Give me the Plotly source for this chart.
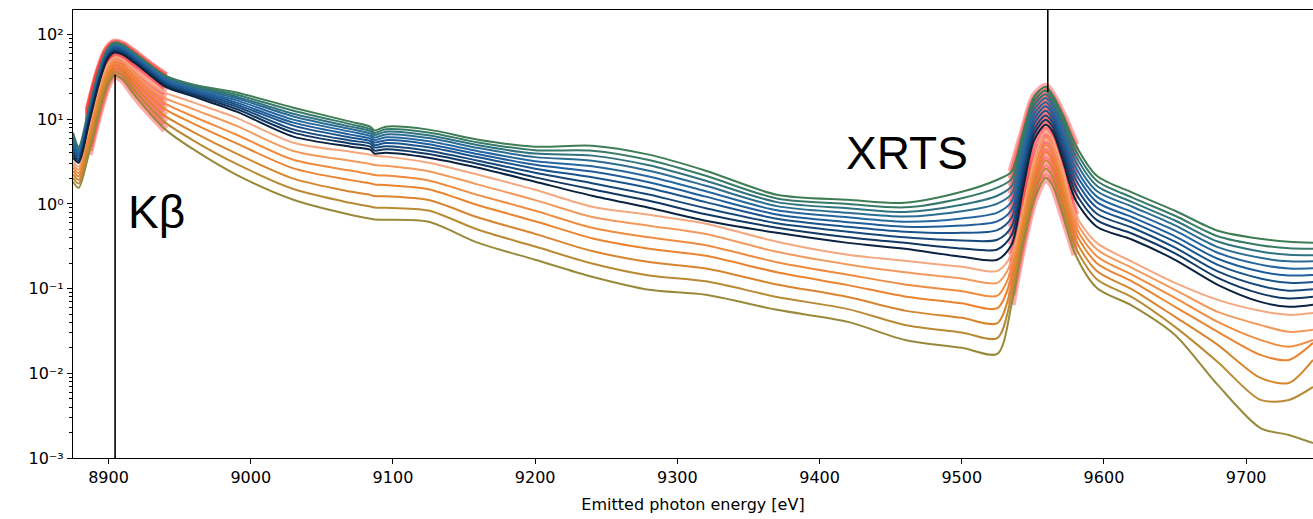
import math
import plotly.graph_objects as go

# ---------------- data ----------------
energy_ev = [8875, 8879, 8886, 8893, 8899, 8904, 8910, 8918, 8928, 8940,
             8960, 8990, 9030, 9070, 9084, 9087, 9095, 9125, 9160, 9200,
             9240, 9280, 9320, 9370, 9420, 9460, 9500, 9525, 9535, 9543,
             9551, 9559, 9564, 9571, 9580, 9595, 9620, 9650, 9680, 9710,
             9730, 9747]

# upper family (green -> blue -> navy), top to bottom
spec_g0 = [6.95, 4.74, 13.0, 36.6, 66.5, 80.5, 76.2, 61.3, 45.4, 32.8, 25.6, 20.7, 13.7, 9.37, 8.18, 7.35, 8.18, 7.54, 5.74, 4.74, 4.87, 3.82, 2.47, 1.285, 1.12, 1.03, 1.39, 1.93, 2.41, 6.95, 18.5, 24.2, 19.0, 11.3, 5.01, 2.15, 1.36, 0.831, 0.483, 0.388, 0.358, 0.349]
spec_g1 = [6.49, 4.54, 12.5, 35.3, 64.7, 78.3, 74.1, 59.7, 44.2, 31.9, 24.9, 19.5, 12.6, 8.76, 7.68, 6.90, 7.62, 6.98, 5.32, 4.31, 4.25, 3.30, 2.15, 1.16, 1.00, 0.911, 1.17, 1.56, 1.97, 5.95, 16.5, 21.9, 17.2, 10.0, 4.31, 1.88, 1.19, 0.725, 0.416, 0.326, 0.299, 0.295]
spec_g2 = [6.07, 4.35, 11.9, 34.1, 63.0, 76.2, 72.2, 58.0, 43.0, 31.1, 24.0, 18.5, 11.6, 8.18, 7.22, 6.50, 7.14, 6.47, 4.93, 3.93, 3.72, 2.86, 1.88, 1.05, 0.888, 0.804, 0.979, 1.25, 1.62, 5.10, 14.7, 19.7, 15.6, 8.88, 3.72, 1.64, 1.05, 0.637, 0.360, 0.275, 0.251, 0.248]
spec_g3 = [5.66, 4.16, 11.5, 32.8, 61.3, 74.1, 70.3, 56.4, 41.9, 30.2, 23.3, 17.7, 10.8, 7.65, 6.76, 6.08, 6.62, 6.00, 4.57, 3.57, 3.24, 2.47, 1.64, 0.942, 0.787, 0.709, 0.820, 1.01, 1.32, 4.37, 13.0, 17.8, 14.2, 7.86, 3.20, 1.42, 0.927, 0.557, 0.309, 0.231, 0.210, 0.210]
spec_g4 = [5.29, 3.97, 11.0, 31.6, 59.6, 72.2, 68.4, 54.9, 40.8, 29.0, 22.4, 16.7, 9.89, 7.14, 6.33, 5.70, 6.12, 5.51, 4.20, 3.20, 2.79, 2.11, 1.41, 0.840, 0.695, 0.618, 0.674, 0.791, 1.06, 3.67, 11.4, 15.9, 12.7, 6.86, 2.71, 1.22, 0.802, 0.483, 0.265, 0.192, 0.173, 0.174]
spec_g5 = [4.87, 3.79, 10.4, 30.4, 58.0, 70.3, 66.5, 53.4, 39.7, 28.0, 21.8, 15.7, 9.12, 6.58, 5.90, 5.31, 5.66, 5.07, 3.86, 2.90, 2.41, 1.80, 1.22, 0.749, 0.609, 0.538, 0.556, 0.623, 0.854, 3.10, 10.1, 14.2, 11.4, 6.00, 2.30, 1.05, 0.697, 0.415, 0.225, 0.159, 0.143, 0.145]
spec_g6 = [4.49, 3.62, 10.0, 29.3, 56.4, 68.4, 64.7, 52.0, 38.6, 27.0, 20.8, 14.9, 8.41, 6.10, 5.51, 4.96, 5.24, 4.66, 3.56, 2.61, 2.06, 1.54, 1.05, 0.669, 0.538, 0.470, 0.456, 0.491, 0.687, 2.61, 8.88, 12.6, 10.2, 5.24, 1.95, 0.902, 0.607, 0.358, 0.191, 0.132, 0.117, 0.120]
spec_g7 = [4.14, 3.42, 9.62, 28.0, 54.2, 65.6, 62.1, 49.9, 37.1, 26.1, 20.0, 14.1, 7.59, 5.61, 5.15, 4.64, 4.81, 4.25, 3.24, 2.33, 1.76, 1.29, 0.890, 0.592, 0.470, 0.403, 0.370, 0.378, 0.538, 2.16, 7.68, 11.1, 9.12, 4.51, 1.64, 0.766, 0.524, 0.305, 0.160, 0.108, 0.0947, 0.0982]
spec_g8 = [3.82, 3.24, 9.12, 26.8, 52.4, 63.4, 60.1, 48.3, 35.9, 25.2, 19.3, 13.2, 6.95, 5.18, 4.74, 4.27, 4.42, 3.88, 2.96, 2.06, 1.49, 1.09, 0.755, 0.524, 0.404, 0.347, 0.298, 0.290, 0.426, 1.80, 6.69, 9.89, 8.11, 3.93, 1.36, 0.644, 0.445, 0.261, 0.134, 0.0873, 0.0766, 0.0800]
spec_g9 = [3.52, 3.07, 8.64, 25.6, 50.6, 61.3, 58.0, 46.7, 34.6, 24.2, 18.5, 12.3, 6.23, 4.74, 4.37, 3.93, 4.03, 3.52, 2.68, 1.83, 1.25, 0.902, 0.633, 0.456, 0.347, 0.295, 0.238, 0.219, 0.329, 1.47, 5.74, 8.64, 7.14, 3.33, 1.12, 0.538, 0.378, 0.219, 0.111, 0.0698, 0.0610, 0.0644]

# lower family (peach -> orange -> olive), top to bottom
spec_o0 = [3.15, 2.76, 7.14, 21.2, 43.0, 53.5, 50.6, 38.6, 27.8, 20.6, 15.7, 10.4, 5.29, 4.14, 3.82, 3.71, 3.62, 3.07, 2.21, 1.47, 0.927, 0.745, 0.584, 0.358, 0.251, 0.213, 0.181, 0.162, 0.251, 0.854, 3.33, 7.34, 5.74, 2.54, 0.745, 0.347, 0.207, 0.117, 0.0737, 0.0547, 0.0490, 0.0517]
spec_o1 = [2.92, 2.54, 6.53, 19.3, 39.7, 49.8, 46.8, 35.0, 24.6, 17.8, 13.1, 8.34, 4.22, 3.23, 2.97, 2.88, 2.82, 2.43, 1.69, 1.11, 0.701, 0.554, 0.441, 0.272, 0.193, 0.156, 0.132, 0.117, 0.206, 0.743, 2.85, 6.09, 4.78, 2.12, 0.637, 0.291, 0.175, 0.0968, 0.0532, 0.0373, 0.0309, 0.0326]
spec_o2 = [2.68, 2.32, 5.91, 17.6, 36.2, 46.2, 43.0, 31.5, 21.8, 15.3, 10.7, 6.56, 3.32, 2.48, 2.26, 2.19, 2.16, 1.89, 1.27, 0.831, 0.524, 0.403, 0.326, 0.205, 0.146, 0.112, 0.0934, 0.0825, 0.167, 0.642, 2.41, 4.98, 3.95, 1.76, 0.538, 0.241, 0.145, 0.0778, 0.0405, 0.0248, 0.0206, 0.0248]
spec_o3 = [2.47, 2.12, 5.37, 16.0, 33.2, 42.9, 39.7, 28.4, 19.2, 13.1, 8.83, 5.19, 2.63, 1.91, 1.75, 1.70, 1.67, 1.49, 0.963, 0.625, 0.394, 0.296, 0.244, 0.156, 0.110, 0.0809, 0.0671, 0.0587, 0.136, 0.556, 2.04, 4.11, 3.27, 1.46, 0.456, 0.200, 0.121, 0.0610, 0.0309, 0.0165, 0.0144, 0.0229]
spec_o4 = [2.23, 1.92, 4.81, 14.3, 30.0, 39.3, 36.0, 25.0, 16.6, 10.9, 7.02, 3.93, 1.99, 1.40, 1.28, 1.24, 1.23, 1.11, 0.691, 0.443, 0.278, 0.206, 0.173, 0.112, 0.0795, 0.0550, 0.0452, 0.0391, 0.107, 0.470, 1.68, 3.28, 2.61, 1.17, 0.376, 0.161, 0.0975, 0.0464, 0.0217, 0.00883, 0.0077, 0.0144]
spec_o5 = [2.03, 1.74, 4.30, 12.8, 27.0, 36.0, 32.6, 22.2, 14.4, 9.12, 5.57, 2.97, 1.50, 1.03, 0.932, 0.905, 0.902, 0.835, 0.495, 0.314, 0.198, 0.143, 0.122, 0.0798, 0.0573, 0.0373, 0.0304, 0.0261, 0.0833, 0.395, 1.38, 2.60, 2.08, 0.940, 0.308, 0.129, 0.0787, 0.0353, 0.0136, 0.00485, 0.00485, 0.0069]
spec_o6 = [1.83, 1.55, 3.82, 11.3, 24.2, 32.8, 29.4, 19.5, 12.3, 7.54, 4.37, 2.21, 1.12, 0.745, 0.669, 0.655, 0.651, 0.616, 0.347, 0.219, 0.138, 0.0968, 0.0845, 0.0562, 0.0405, 0.0248, 0.0200, 0.0170, 0.0644, 0.329, 1.12, 2.04, 1.64, 0.745, 0.251, 0.102, 0.0627, 0.0284, 0.00729, 0.00226, 0.00187, 0.0015]

upper_series = [spec_g0, spec_g1, spec_g2, spec_g3, spec_g4, spec_g5, spec_g6, spec_g7, spec_g8, spec_g9]
lower_series = [spec_o0, spec_o1, spec_o2, spec_o3, spec_o4, spec_o5, spec_o6]

upper_colors = ["#3f7d55", "#387a68", "#30737f", "#2b6d92", "#25679e", "#1f5e9a", "#1a548d",
                "#16487a", "#113862", "#0b2240"]
lower_colors = ["#f4a880", "#f29a5c", "#ef8c40", "#ea8430", "#d8852f", "#b98a34", "#988a3a"]

x_tick_vals = [8900, 9000, 9100, 9200, 9300, 9400, 9500, 9600, 9700]
y_tick_vals = [1e-3, 1e-2, 1e-1, 1, 10, 100]
y_tick_text = ["10\u207b\u00b3", "10\u207b\u00b2", "10\u207b\u00b9", "10\u2070", "10\u00b9", "10\u00b2"]

KB_ENERGY = 8904.6
KB_LINE_TOP = 33.7
XRTS_ENERGY = 9560.5
XRTS_LINE_BOTTOM = 21.0
Y_MIN = 1e-3
Y_MAX = 200

KB_WINDOW = (2, 10)      # slice of energy_ev highlighted around K-beta
XRTS_WINDOW = (28, 35)   # slice highlighted around the XRTS peak

# ---------------- figure ----------------
fig = go.Figure()
all_series = lower_series + upper_series
all_colors = lower_colors + upper_colors

HIGHLIGHT = "rgba(255,55,55,0.42)"
for vals in all_series:
    for a, b in (KB_WINDOW, XRTS_WINDOW):
        fig.add_trace(go.Scatter(x=energy_ev[a:b], y=vals[a:b], mode="lines",
                                 line=dict(color=HIGHLIGHT, width=8, shape="spline", smoothing=0.8),
                                 hoverinfo="skip", showlegend=False))

for vals, col in zip(all_series, all_colors):
    fig.add_trace(go.Scatter(x=energy_ev, y=vals, mode="lines",
                             line=dict(color=col, width=2, shape="spline", smoothing=0.8),
                             showlegend=False))

fig.add_trace(go.Scatter(x=[KB_ENERGY, KB_ENERGY], y=[Y_MIN, KB_LINE_TOP], mode="lines",
                         line=dict(color="black", width=1.6), showlegend=False))
fig.add_trace(go.Scatter(x=[XRTS_ENERGY, XRTS_ENERGY], y=[XRTS_LINE_BOTTOM, Y_MAX], mode="lines",
                         line=dict(color="black", width=1.6), showlegend=False))

fig.add_annotation(x=8912, y=math.log10(0.8), text="K\u03b2", showarrow=False,
                   xanchor="left", yanchor="middle",
                   font=dict(family="Liberation Sans", size=46, color="black"))
fig.add_annotation(x=9417, y=math.log10(4.0), text="XRTS", showarrow=False,
                   xanchor="left", yanchor="middle",
                   font=dict(family="Liberation Sans", size=46, color="black"))

minor_vals = [m * 10.0 ** k for k in range(-3, 3) for m in range(2, 10) if m * 10.0 ** k < Y_MAX]

fig.update_layout(width=1313, height=519, margin=dict(l=73, r=0, t=10, b=61),
                  plot_bgcolor="white", paper_bgcolor="white",
                  font=dict(family="DejaVu Sans", size=16, color="black"),
                  showlegend=False)
fig.update_xaxes(range=[8875, 9747], showline=True, linecolor="black", linewidth=1.2, mirror=True,
                 ticks="outside", ticklen=5, tickwidth=1.2, tickcolor="black",
                 tickvals=x_tick_vals, showgrid=False, zeroline=False,
                 title=dict(text="Emitted photon energy [eV]", standoff=12, font=dict(size=16)))
fig.update_yaxes(type="log", range=[-3, math.log10(Y_MAX) - 0.011], showline=True, linecolor="black",
                 linewidth=1.2, ticks="outside", ticklen=5, tickwidth=1.2, tickcolor="black",
                 tickvals=y_tick_vals, ticktext=y_tick_text, showgrid=False, zeroline=False,
                 minor=dict(ticks="outside", ticklen=3, tickwidth=1, tickcolor="black",
                            tickvals=minor_vals, showgrid=False))

fig.write_html("out.html")
